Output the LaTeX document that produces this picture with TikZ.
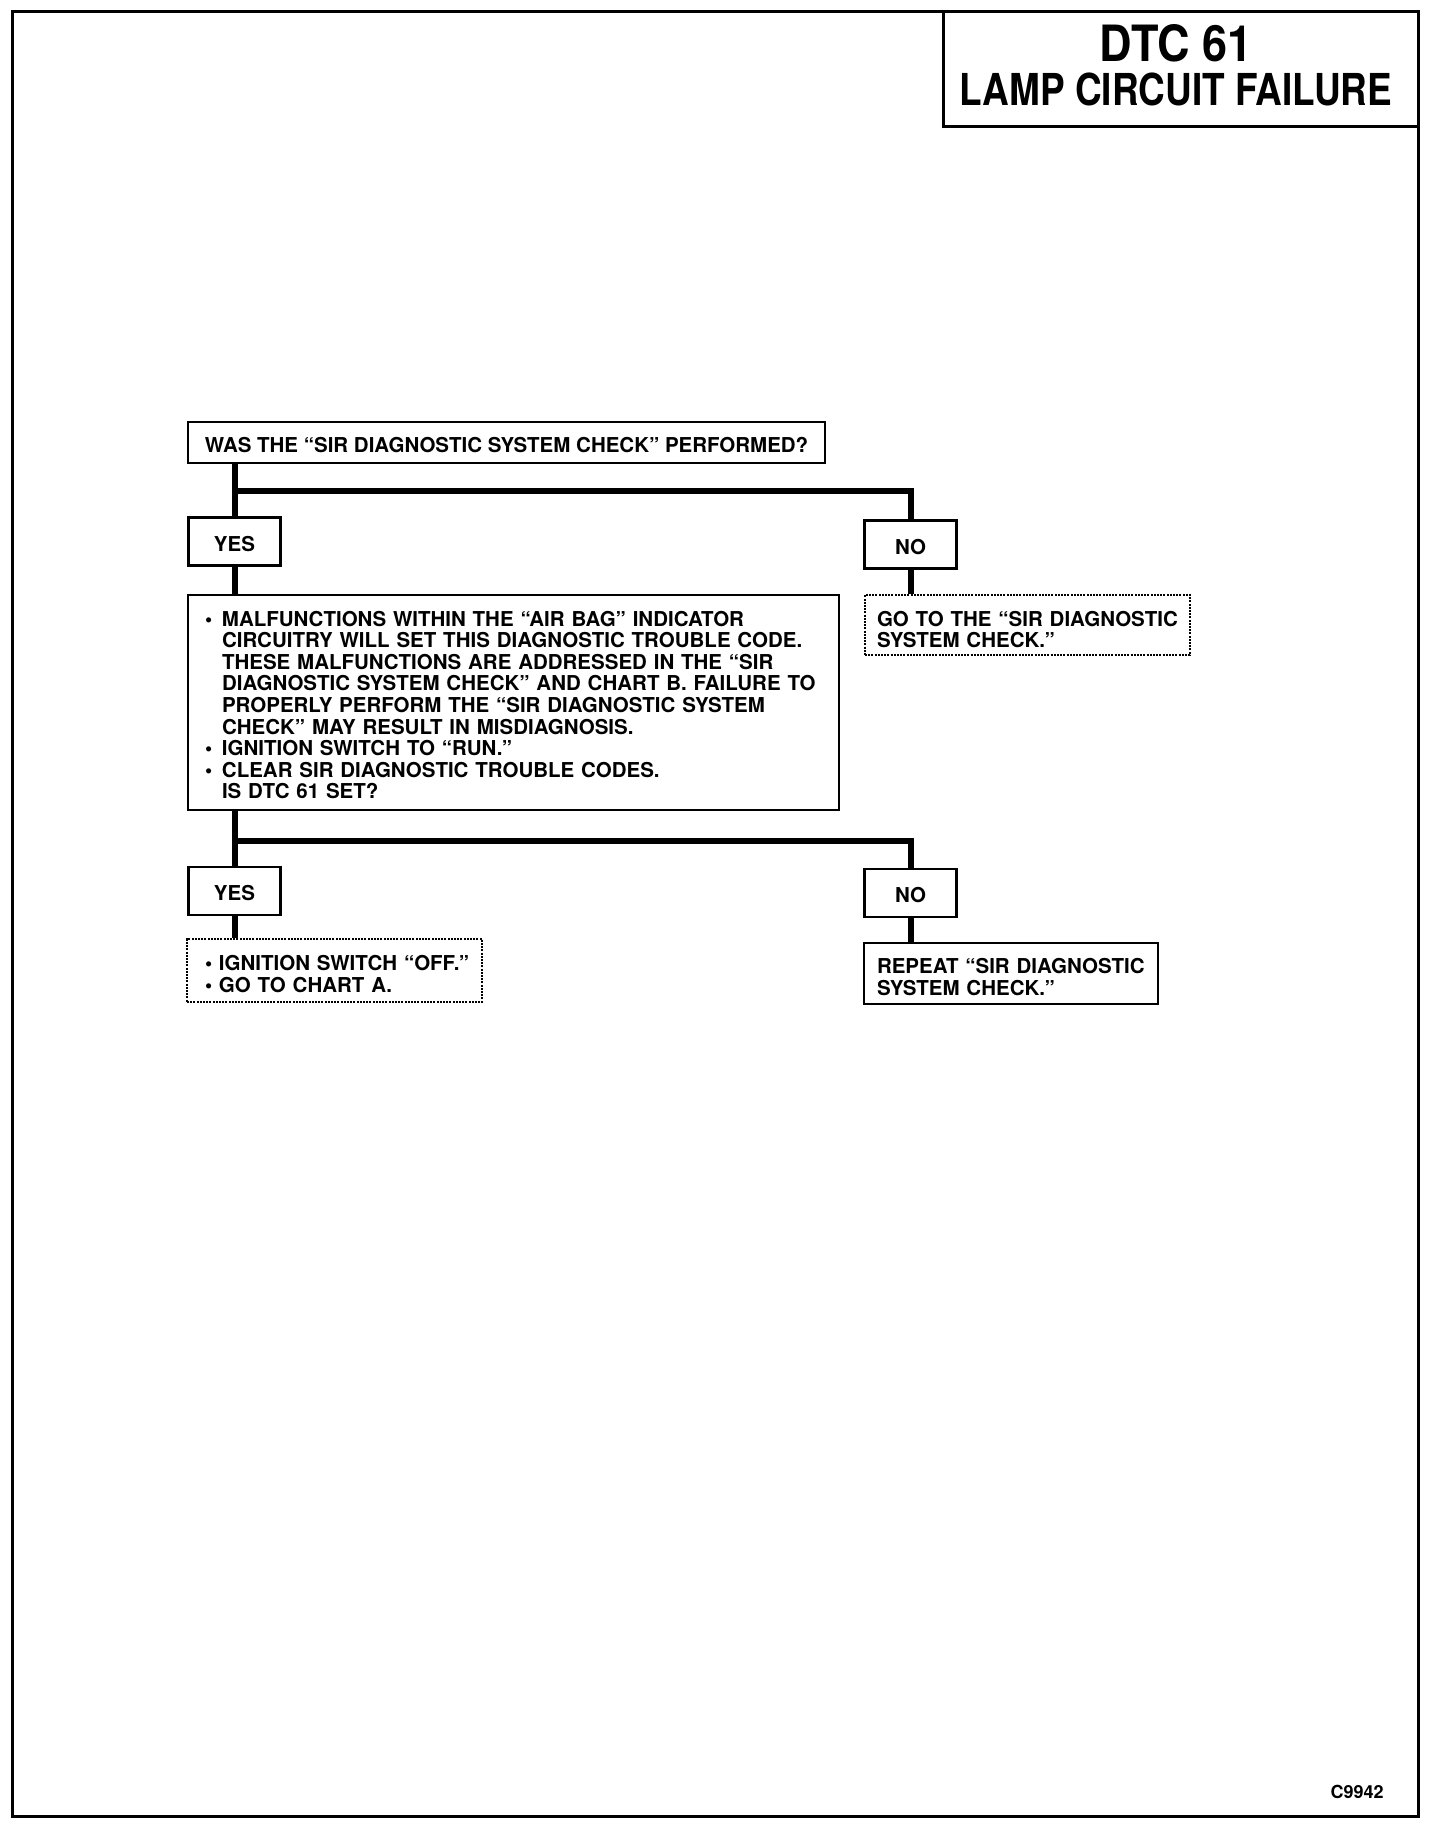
\documentclass[tikz,border=0pt]{standalone}
\usepackage{fontspec}
\setmainfont{TeX Gyre Heros}
\newfontfamily\titlefont[FakeStretch=0.84]{TeX Gyre Heros}
\newfontfamily\dtcfont[FakeStretch=0.9]{TeX Gyre Heros}
\usetikzlibrary{positioning}
\newcommand{\bodyfont}{\bfseries\fontsize{20.5}{21.6}\selectfont}
\newcommand{\bul}{\makebox[17pt][l]{\textbullet}}
\newcommand{\sbul}{\hspace*{7pt}\makebox[14pt][l]{\textbullet}}
\newcommand{\ind}{\hspace*{17pt}}

\begin{document}
\begin{tikzpicture}[x=1pt, y=-1pt,
    box/.style={rectangle, draw, line width=2.6pt, font=\bodyfont, inner sep=0pt, align=center},
    answer/.style={box, minimum width=92pt, minimum height=48pt, text height=19pt, text depth=0pt},
    dotbox/.style={rectangle, draw, line width=1.6pt, dash pattern=on 2pt off 1.2pt,
                   font=\bodyfont, align=left, inner ysep=0pt},
    link/.style={line width=6pt}
]
    \useasboundingbox (0,0) rectangle (1440,1830);
    \draw[line width=3pt] (12,12) rectangle (1418,1816);

    % title block
    \node[draw, line width=3pt, minimum width=475pt, minimum height=115pt] (titlebox) at (1180.5,69.5) {};
    \node[font=\dtcfont\bfseries\fontsize{50}{50}\selectfont, anchor=base] (dtc)  at (1176,62)  {DTC 61};
    \node[font=\titlefont\bfseries\fontsize{44}{44}\selectfont, anchor=base] (lamp) at (1176,106) {LAMP CIRCUIT FAILURE};

    % chart
    \node[box, minimum width=637pt, minimum height=41pt, text height=19pt, text depth=0pt] (question) at (506.5,442.5)
        {WAS THE “SIR DIAGNOSTIC SYSTEM CHECK” PERFORMED?};
    \node[answer] (yes1) at (234.5,541.5) {YES};
    \node[answer] (no1)  at (910.5,544.5) {NO};
    \node[dotbox, text width=301pt, inner xsep=12pt, minimum height=60pt, text depth=13pt] (goto) at (1027.5,625)
        {GO TO THE “SIR DIAGNOSTIC\\SYSTEM CHECK.”};
    \node[box, align=left, text width=617pt, inner xsep=17pt, minimum height=215pt, text depth=168pt] (check) at (513.5,702.5)
        {\bul MALFUNCTIONS WITHIN THE “AIR BAG” INDICATOR\\
         \ind CIRCUITRY WILL SET THIS DIAGNOSTIC TROUBLE CODE.\\
         \ind THESE MALFUNCTIONS ARE ADDRESSED IN THE “SIR\\
         \ind DIAGNOSTIC SYSTEM CHECK” AND CHART B. FAILURE TO\\
         \ind PROPERLY PERFORM THE “SIR DIAGNOSTIC SYSTEM\\
         \ind CHECK” MAY RESULT IN MISDIAGNOSIS.\\
         \bul IGNITION SWITCH TO “RUN.”\\
         \bul CLEAR SIR DIAGNOSTIC TROUBLE CODES.\\
         \ind IS DTC 61 SET?};
    \node[answer] (yes2) at (234.5,891) {YES};
    \node[answer] (no2)  at (910.5,893) {NO};
    \node[dotbox, text width=273pt, inner xsep=11pt, minimum height=63pt, text depth=15pt] (chartA) at (334.5,970.5)
        {\sbul IGNITION SWITCH “OFF.”\\\sbul GO TO CHART A.};
    \node[box, align=left, text width=268pt, inner xsep=13pt, minimum height=61pt, text depth=15pt] (again) at (1011,973.5)
        {REPEAT “SIR DIAGNOSTIC\\SYSTEM CHECK.”};

    \coordinate (fork1) at (910.5,491);
    \coordinate (fork2) at (910.5,841);
    \draw[link] (yes1.north |- question.south) -- (yes1.north);
    \draw[link] (yes1.north |- fork1) -| (no1.north);
    \draw[link] (no1.south) -- (no1.south |- goto.north);
    \draw[link] (yes1.south) -- (yes1.south |- check.north);
    \draw[link] (yes2.north |- check.south) -- (yes2.north);
    \draw[link] (yes2.north |- fork2) -| (no2.north);
    \draw[link] (no2.south) -- (no2.south |- again.north);
    \draw[link] (yes2.south) -- (yes2.south |- chartA.north);

    \node[font=\bfseries\fontsize{18}{18}\selectfont, anchor=base] (code) at (1357,1798) {C9942};
\end{tikzpicture}
\end{document}
